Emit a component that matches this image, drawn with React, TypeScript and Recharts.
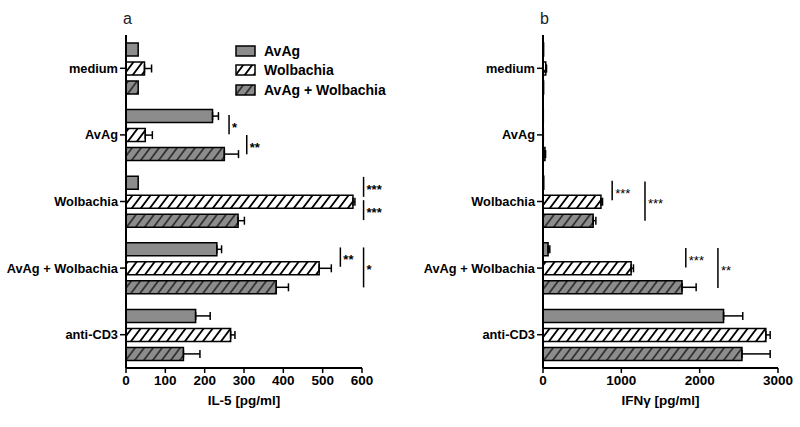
import { BarChart, Bar, XAxis, YAxis, ErrorBar } from 'recharts'

const FONT = '"Liberation Sans", Arial, Helvetica, sans-serif'

const categories = ['medium', 'AvAg', 'Wolbachia', 'AvAg + Wolbachia', 'anti-CD3']
const seriesNames = ['AvAg', 'Wolbachia', 'AvAg + Wolbachia']

// panel a: IL-5 [pg/ml]
const il5AvAg = [31, 220, 31, 231, 177]
const il5AvAgErr = [0, 15, 0, 12, 37]
const il5Wol = [47, 49, 577, 491, 266]
const il5WolErr = [18, 18, 5, 31, 11]
const il5Both = [31, 250, 285, 382, 146]
const il5BothErr = [0, 36, 16, 31, 42]
const il5Ticks = [0, 100, 200, 300, 400, 500, 600]

// panel b: IFN-gamma [pg/ml]
const ifnAvAg = [8, 4, 10, 65, 2305]
const ifnAvAgErr = [0, 0, 0, 22, 245]
const ifnWol = [35, 4, 740, 1125, 2845]
const ifnWolErr = [10, 0, 20, 30, 55]
const ifnBoth = [8, 25, 640, 1775, 2540]
const ifnBothErr = [0, 8, 35, 180, 360]
const ifnTicks = [0, 1000, 2000, 3000]

// significance brackets: x in data units, y in category units (0 = top, 5 = bottom)
const il5Sig = [
  { x: 262, y1: 1.2, y2: 1.49, label: '*' },
  { x: 307, y1: 1.5, y2: 1.79, label: '**' },
  { x: 604, y1: 2.13, y2: 2.43, label: '***' },
  { x: 604, y1: 2.48, y2: 2.78, label: '***' },
  { x: 545, y1: 3.19, y2: 3.48, label: '**' },
  { x: 604, y1: 3.19, y2: 3.79, label: '*' },
]
const ifnSig = [
  { x: 883, y1: 2.19, y2: 2.48, label: '***' },
  { x: 1302, y1: 2.2, y2: 2.79, label: '***' },
  { x: 1823, y1: 3.2, y2: 3.49, label: '***' },
  { x: 2233, y1: 3.2, y2: 3.8, label: '**' },
]

const fills = ['#8c8c8c', 'url(#hatchWhite)', 'url(#hatchGray)']

const CHART_W = 400
const CHART_H = 427
const TOP = 35
const X_AXIS_H = 45
const BOTTOM = 14

function buildRows(a: number[], aE: number[], w: number[], wE: number[], b: number[], bE: number[]) {
  return categories.map((cat, i) => ({
    cat,
    avag: a[i],
    avagErr: aE[i] ? [0, aE[i]] : null,
    wol: w[i],
    wolErr: wE[i] ? [0, wE[i]] : null,
    both: b[i],
    bothErr: bE[i] ? [0, bE[i]] : null,
  }))
}

const il5Rows = buildRows(il5AvAg, il5AvAgErr, il5Wol, il5WolErr, il5Both, il5BothErr)
const ifnRows = buildRows(ifnAvAg, ifnAvAgErr, ifnWol, ifnWolErr, ifnBoth, ifnBothErr)

type Sig = { x: number; y1: number; y2: number; label: string }

function Patterns() {
  return (
    <svg width={0} height={0} style={{ position: 'absolute' }}>
      <defs>
        <pattern id="hatchWhite" patternUnits="userSpaceOnUse" width={9} height={12}>
          <rect width={9} height={12} fill="#fff" />
          <path d="M0,12 L9,0 M-2,2.67 L2,-2.67 M7,14.67 L11,9.33" stroke="#000" strokeWidth={1.8} />
        </pattern>
        <pattern id="hatchGray" patternUnits="userSpaceOnUse" width={9} height={12}>
          <rect width={9} height={12} fill="#8c8c8c" />
          <path d="M0,12 L9,0 M-2,2.67 L2,-2.67 M7,14.67 L11,9.33" stroke="#333" strokeWidth={1.8} />
        </pattern>
      </defs>
    </svg>
  )
}

type PanelProps = {
  rows: ReturnType<typeof buildRows>
  domain: [number, number]
  ticks: number[]
  axisLabel: string
  sigs: Sig[]
  yAxisWidth: number
  marginRight: number
  left: number
  letter: string
  sigWeight: string
}

function Panel({ rows, domain, ticks, axisLabel, sigs, yAxisWidth, marginRight, left, letter, sigWeight }: PanelProps) {
  const keys = ['avag', 'wol', 'both']
  // plot box, same numbers as the chart margins below
  const plotW = CHART_W - yAxisWidth - marginRight
  const plotH = CHART_H - TOP - X_AXIS_H - BOTTOM
  const px = (v: number) => yAxisWidth + (v / domain[1]) * plotW
  const py = (u: number) => TOP + (u / categories.length) * plotH
  return (
    <div style={{ position: 'absolute', left, top: 0, width: CHART_W, height: CHART_H }}>
      <div
        style={{
          position: 'absolute',
          left: yAxisWidth - 3,
          top: 11,
          fontFamily: FONT,
          fontSize: 16,
          lineHeight: '16px',
          color: '#222',
        }}
      >
        {letter}
      </div>
      <BarChart
        width={CHART_W}
        height={CHART_H}
        data={rows}
        layout="vertical"
        margin={{ top: TOP, right: marginRight, bottom: BOTTOM, left: 0 }}
        barCategoryGap={8}
        barGap={6}
      >
        <XAxis
          type="number"
          domain={domain}
          ticks={ticks}
          interval={0}
          tickSize={5}
          height={X_AXIS_H}
          axisLine={{ stroke: '#000', strokeWidth: 2 }}
          tickLine={{ stroke: '#000', strokeWidth: 1.5 }}
          tick={{ fill: '#000', fontSize: 13.5, fontWeight: 'bold', fontFamily: FONT }}
          label={{
            value: axisLabel,
            position: 'insideBottom',
            offset: 8,
            fill: '#000',
            fontSize: 13.5,
            fontWeight: 'bold',
            fontFamily: FONT,
          }}
        />
        <YAxis
          type="category"
          dataKey="cat"
          width={yAxisWidth}
          tickSize={6}
          interval={0}
          axisLine={{ stroke: '#000', strokeWidth: 2 }}
          tickLine={{ stroke: '#000', strokeWidth: 1.5 }}
          tick={{ fill: '#000', fontSize: 12.8, fontWeight: 'bold', fontFamily: FONT }}
        />
        {keys.map((k, i) => (
          <Bar
            key={k}
            dataKey={k}
            name={seriesNames[i]}
            fill={fills[i]}
            stroke="#000"
            strokeWidth={1.5}
            isAnimationActive={false}
          >
            <ErrorBar dataKey={`${k}Err`} direction="x" width={4} stroke="#000" strokeWidth={1.5} />
          </Bar>
        ))}
      </BarChart>
      <svg
        width={CHART_W}
        height={CHART_H}
        style={{ position: 'absolute', left: 0, top: 0, pointerEvents: 'none' }}
      >
        {sigs.map((s, i) => (
          <g key={i}>
            <line x1={px(s.x)} x2={px(s.x)} y1={py(s.y1)} y2={py(s.y2)} stroke="#000" strokeWidth={1.5} />
            <text
              x={px(s.x) + 3}
              y={(py(s.y1) + py(s.y2)) / 2 + 7}
              fontSize={13}
              fontWeight={sigWeight}
              fontFamily={FONT}
              fill="#000"
            >
              {s.label}
            </text>
          </g>
        ))}
      </svg>
    </div>
  )
}

function LegendBox() {
  return (
    <div style={{ position: 'absolute', left: 235, top: 41, fontFamily: FONT }}>
      {seriesNames.map((n, i) => (
        <div key={n} style={{ display: 'flex', alignItems: 'center', height: 19.5 }}>
          <svg width={21} height={12} style={{ marginRight: 8 }}>
            <rect x={1} y={1} width={19} height={10} fill={fills[i]} stroke="#000" strokeWidth={1.5} />
          </svg>
          <span style={{ fontSize: 14, fontWeight: 'bold', color: '#000' }}>{n}</span>
        </div>
      ))}
    </div>
  )
}

export default function App() {
  return (
    <div style={{ position: 'absolute', left: 0, top: 0, width: 800, height: 427, background: '#fff' }}>
      <Patterns />
      <Panel
        rows={il5Rows}
        domain={[0, 600]}
        ticks={il5Ticks}
        axisLabel="IL-5 [pg/ml]"
        sigs={il5Sig}
        yAxisWidth={126}
        marginRight={38}
        left={0}
        letter="a"
        sigWeight="bold"
      />
      <Panel
        rows={ifnRows}
        domain={[0, 3000]}
        ticks={ifnTicks}
        axisLabel="IFNγ [pg/ml]"
        sigs={ifnSig}
        yAxisWidth={143}
        marginRight={22}
        left={400}
        letter="b"
        sigWeight="normal"
      />
      <LegendBox />
    </div>
  )
}
